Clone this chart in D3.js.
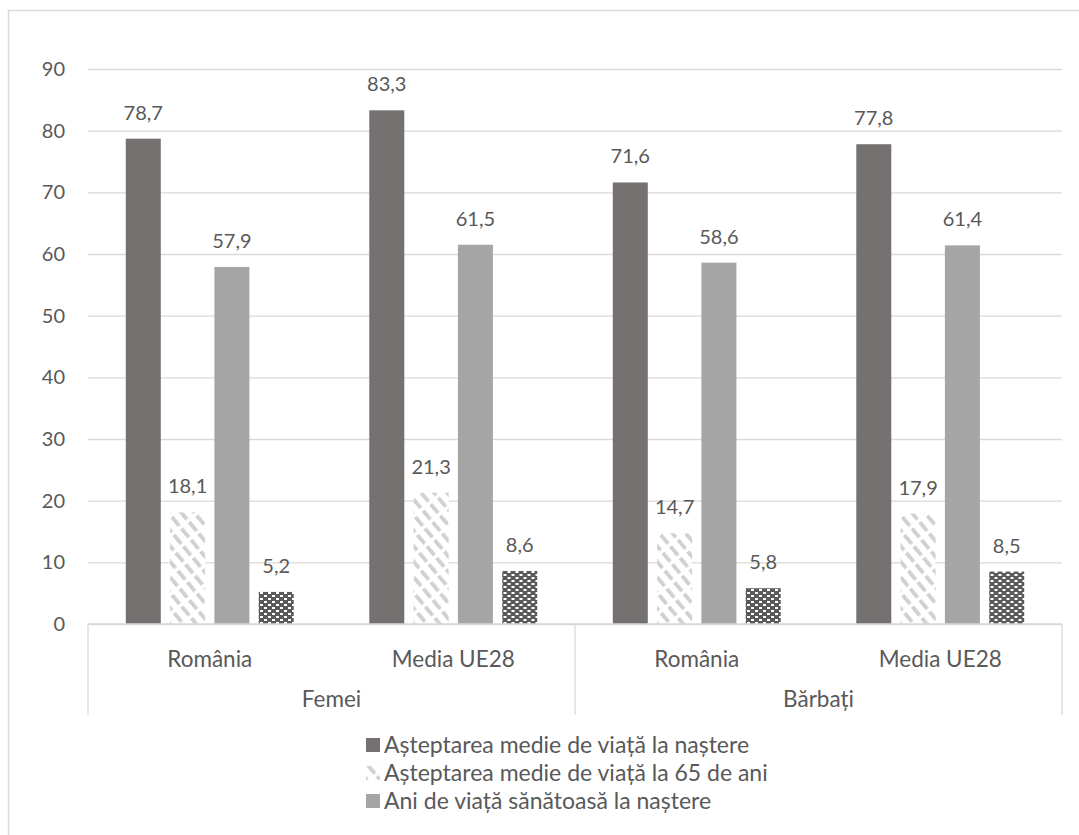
<!DOCTYPE html>
<html>
<head>
<meta charset="utf-8">
<script src="https://cdn.jsdelivr.net/npm/d3@7"></script>
<style>
  html, body { margin: 0; padding: 0; background: #ffffff; }
  svg { display: block; }
  text { font-family: Lato, "Open Sans", sans-serif; fill: #595959; }
</style>
</head>
<body>
<svg id="chart" width="1079" height="835"></svg>
<script>
// Categories: sex groups, each split into România / EU28 average
const groups = ["Femei", "Bărbați"];
const categories = ["România", "Media UE28", "România", "Media UE28"];
const seriesNames = [
  "Așteptarea medie de viață la naștere",
  "Așteptarea medie de viață la 65 de ani",
  "Ani de viață sănătoasă la naștere",
  "Ani de viață sănătoasă la 65 de ani"
];
// Values per series, in category order
const lifeAtBirth   = [78.7, 83.3, 71.6, 77.8];
const lifeAt65      = [18.1, 21.3, 14.7, 17.9];
const healthyBirth  = [57.9, 61.5, 58.6, 61.4];
const healthyAt65   = [5.2, 8.6, 5.8, 8.5];
const yTicks = [0, 10, 20, 30, 40, 50, 60, 70, 80, 90];
// Only the first three series appear in the legend
const legendCount = 3;

const seriesValues = [lifeAtBirth, lifeAt65, healthyBirth, healthyAt65];
const fmt = v => d3.format(".1f")(v).replace(".", ",");

const svg = d3.select("#chart");
const defs = svg.append("defs");

// Light diagonal dashed hatch
const hatch = defs.append("pattern")
  .attr("id", "hatch").attr("patternUnits", "userSpaceOnUse")
  .attr("width", 10).attr("height", 15)
  .attr("patternTransform", "rotate(-40)");
hatch.append("rect").attr("width", 10).attr("height", 15).attr("fill", "#ffffff");
hatch.append("rect").attr("x", 0).attr("y", 0).attr("width", 3.8).attr("height", 11.5).attr("fill", "#d0d0d0");

// Dark brick-like check pattern
const check = defs.append("pattern")
  .attr("id", "check").attr("patternUnits", "userSpaceOnUse")
  .attr("width", 8).attr("height", 6);
check.append("rect").attr("width", 8).attr("height", 6).attr("fill", "#5a5a5a");
check.append("rect").attr("x", 0).attr("y", 1).attr("width", 3).attr("height", 2).attr("fill", "#ffffff");
check.append("rect").attr("x", 4).attr("y", 4).attr("width", 3).attr("height", 2).attr("fill", "#ffffff");

const fills = ["#767171", "url(#hatch)", "#a5a5a5", "url(#check)"];

// Outer frame
svg.append("rect")
  .attr("x", 8.5).attr("y", 10.5).attr("width", 1200).attr("height", 1000)
  .attr("fill", "none").attr("stroke", "#d9d9d9").attr("stroke-width", 1.5);

const plotLeft = 88, plotRight = 1062;
const y = d3.scaleLinear().domain([0, 90]).range([624, 69]);

const x0 = d3.scaleBand().domain(d3.range(categories.length))
  .range([plotLeft, plotRight]).padding(0);
const x1 = d3.scaleBand().domain(d3.range(seriesNames.length))
  .range([0, x0.bandwidth()]).paddingInner(0.21).paddingOuter(0.853);

// Gridlines and y tick labels
const yAxis = d3.axisLeft(y).tickValues(yTicks).tickSize(-(plotRight - plotLeft)).tickPadding(23);
const gy = svg.append("g").attr("transform", `translate(${plotLeft},0)`).call(yAxis);
gy.select(".domain").remove();
gy.selectAll(".tick line").attr("stroke", "#d9d9d9").attr("stroke-width", 1.3);
gy.selectAll(".tick text").attr("font-size", 20).attr("fill", "#595959")
  .style("font-family", "Lato, 'Open Sans', sans-serif");

// Bars
const cat = svg.append("g").selectAll("g").data(categories).join("g")
  .attr("transform", (d, i) => `translate(${x0(i)},0)`);

cat.selectAll("rect").data((d, ci) => seriesValues.map((s, si) => ({ si, v: s[ci] })))
  .join("rect")
  .attr("x", d => x1(d.si))
  .attr("width", x1.bandwidth())
  .attr("y", d => y(d.v))
  .attr("height", d => y(0) - y(d.v))
  .attr("fill", d => fills[d.si]);

cat.selectAll("text.val").data((d, ci) => seriesValues.map((s, si) => ({ si, v: s[ci] })))
  .join("text").attr("class", "val")
  .attr("x", d => x1(d.si) + x1.bandwidth() / 2)
  .attr("y", d => y(d.v) - 19)
  .attr("text-anchor", "middle")
  .attr("font-size", 20)
  .text(d => fmt(d.v));

// Category axis: baseline, separators, labels
const axisG = svg.append("g");
axisG.append("line")
  .attr("x1", plotLeft).attr("x2", plotRight).attr("y1", y(0)).attr("y2", y(0))
  .attr("stroke", "#d9d9d9").attr("stroke-width", 1.3);
const sepX = [plotLeft, x0(2), plotRight];
axisG.selectAll("line.sep").data(sepX).join("line").attr("class", "sep")
  .attr("x1", d => d).attr("x2", d => d).attr("y1", y(0)).attr("y2", 715)
  .attr("stroke", "#d9d9d9").attr("stroke-width", 1.3);

axisG.selectAll("text.cat").data(categories).join("text").attr("class", "cat")
  .attr("x", (d, i) => x0(i) + x0.bandwidth() / 2)
  .attr("y", 667)
  .attr("text-anchor", "middle").attr("font-size", 22.5)
  .text(d => d);

axisG.selectAll("text.grp").data(groups).join("text").attr("class", "grp")
  .attr("x", (d, i) => x0(i * 2) + x0.bandwidth())
  .attr("y", 707)
  .attr("text-anchor", "middle").attr("font-size", 22.5)
  .text(d => d);

// Legend
const legend = svg.append("g").attr("transform", "translate(366,738)");
const items = legend.selectAll("g").data(seriesNames.slice(0, legendCount)).join("g")
  .attr("transform", (d, i) => `translate(0,${i * 28})`);
items.append("rect").attr("width", 14).attr("height", 14)
  .attr("fill", (d, i) => fills[i]);
items.append("text").attr("x", 18).attr("y", 15).attr("font-size", 23)
  .text(d => d);
</script>
</body>
</html>
